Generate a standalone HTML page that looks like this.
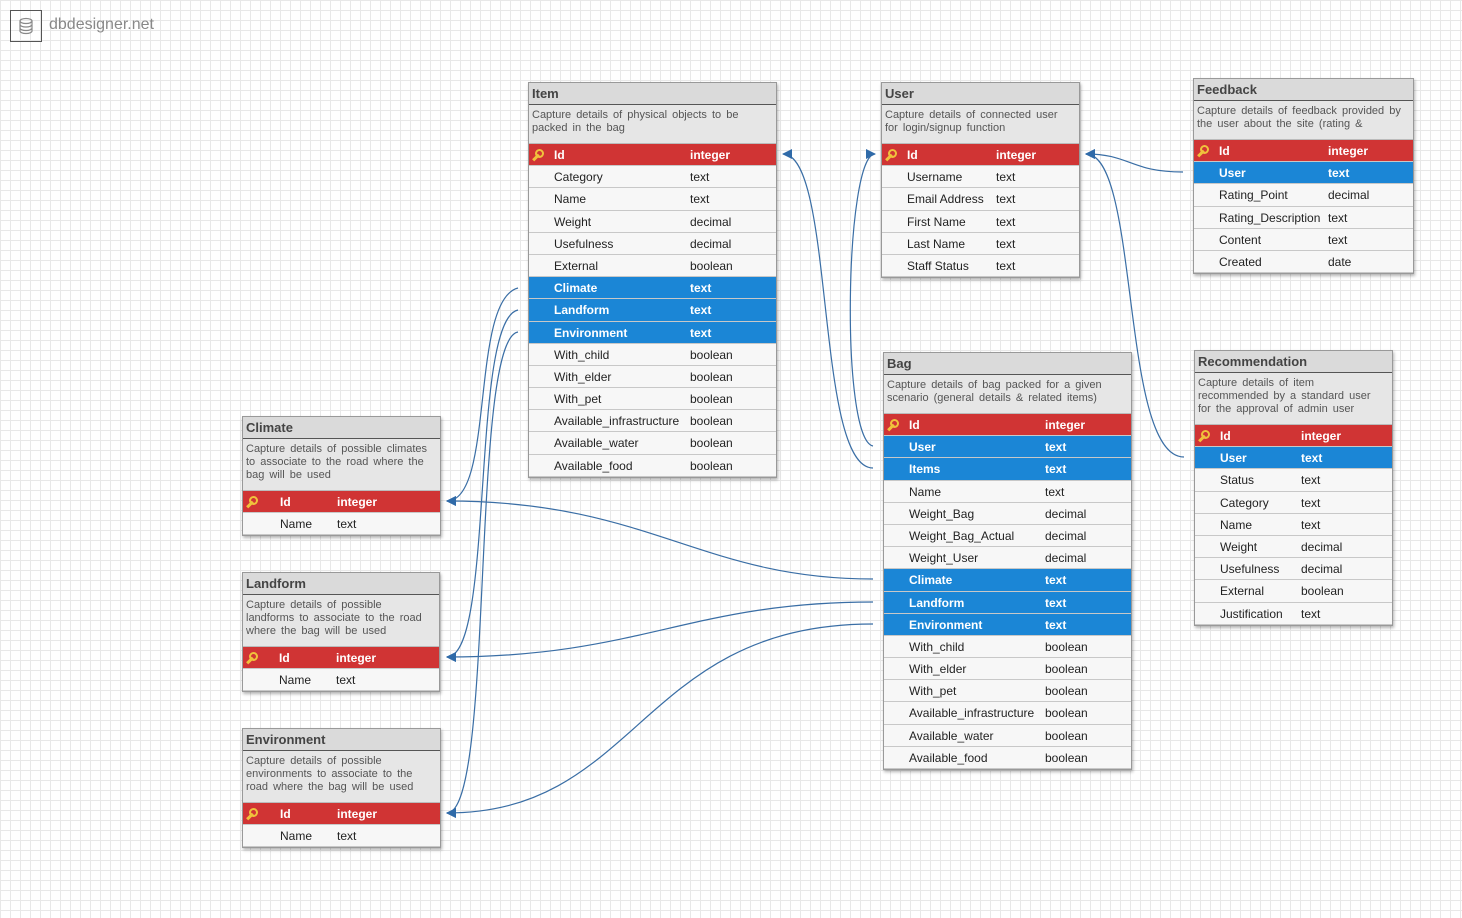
<!DOCTYPE html>
<html><head><meta charset="utf-8"><style>
body{margin:0;width:1462px;height:918px;overflow:hidden;font-family:"Liberation Sans",sans-serif;
background-color:#fff;background-image:linear-gradient(#e8e8e8 1px,transparent 1px),linear-gradient(90deg,#e8e8e8 1px,transparent 1px);background-size:10px 10px;position:relative}
.t{position:absolute;background:#f7f7f7;border:1px solid #999;box-shadow:1px 2px 3px rgba(0,0,0,.3);font-size:12px;color:#222;box-sizing:border-box}
.h{height:21px;line-height:21px;background:#dadada;border-bottom:1px solid #555;padding-left:3px;font-size:13px;font-weight:bold;color:#444}
.d{background:#e6e6e6;font-size:11px;line-height:13px;padding:4px 10px 4px 3px;color:#555;word-spacing:2px;box-sizing:border-box;border-bottom:1px solid #bbb;white-space:nowrap}
.r{height:22.2px;line-height:22px;position:relative;border-bottom:1px solid #c8c8c8;box-sizing:border-box}
.r span{position:absolute;top:0}
.r span:first-child{left:25px}
.k{background:#d03434;color:#fff;font-weight:bold}
.b{background:#1b86d6;color:#fff;font-weight:bold}
.k:before{content:"";position:absolute;left:6px;top:5px;width:9px;height:9px;border-radius:50%;border:2px solid #f0c23c;box-sizing:border-box}
.k:after{content:"";position:absolute;left:3px;top:12px;width:8px;height:3px;background:#f0c23c;transform:rotate(-45deg)}
</style></head><body>
<div style="position:absolute;left:10px;top:10px;width:32px;height:32px;border:1px solid #555;box-sizing:border-box"><svg width="30" height="30"><g fill="none" stroke="#888" stroke-width="1.2"><ellipse cx="15" cy="10" rx="6" ry="2.5"/><path d="M9 10v10c0 1.4 2.7 2.5 6 2.5s6-1.1 6-2.5V10M9 13.5c0 1.4 2.7 2.5 6 2.5s6-1.1 6-2.5M9 17c0 1.4 2.7 2.5 6 2.5s6-1.1 6-2.5"/></g></svg></div>
<div style="position:absolute;left:49px;top:16px;font-size:16px;color:#888">dbdesigner.net</div>

<svg style="position:absolute;left:0;top:0" width="1462" height="918"><defs><marker id="a" markerWidth="10" markerHeight="10" refX="9" refY="5" orient="auto" markerUnits="userSpaceOnUse"><path d="M0,0L10,5L0,10z" fill="#2f6aa8"/></marker></defs>
<g fill="none" stroke="#3a6ea5" stroke-width="1.2" marker-end="url(#a)">
<path d="M873,468C815,468 835,154 783,154"/>
<path d="M873,446C840,440 845,154 875,154"/>
<path d="M1183,172C1130,172 1130,154 1086,154"/>
<path d="M1184,457C1120,457 1140,154 1086,154"/>
<path d="M518,288C470,300 495,501 447,501"/>
<path d="M873,579C700,579 650,501 447,501"/>
<path d="M518,310C470,320 495,657 447,657"/>
<path d="M873,602C690,602 640,657 447,657"/>
<path d="M518,332C470,340 495,813 447,813"/>
<path d="M873,624C640,624 640,813 447,813"/>
</g></svg>

<div class="t" style="left:528px;top:82px;width:249px">
<div class="h">Item</div><div class="d" style="height:39px">Capture details of physical objects to be<br>packed in the bag</div>
<div class="r k"><span>Id</span><span style="left:161px">integer</span></div>
<div class="r"><span>Category</span><span style="left:161px">text</span></div>
<div class="r"><span>Name</span><span style="left:161px">text</span></div>
<div class="r"><span>Weight</span><span style="left:161px">decimal</span></div>
<div class="r"><span>Usefulness</span><span style="left:161px">decimal</span></div>
<div class="r"><span>External</span><span style="left:161px">boolean</span></div>
<div class="r b"><span>Climate</span><span style="left:161px">text</span></div>
<div class="r b"><span>Landform</span><span style="left:161px">text</span></div>
<div class="r b"><span>Environment</span><span style="left:161px">text</span></div>
<div class="r"><span>With_child</span><span style="left:161px">boolean</span></div>
<div class="r"><span>With_elder</span><span style="left:161px">boolean</span></div>
<div class="r"><span>With_pet</span><span style="left:161px">boolean</span></div>
<div class="r"><span>Available_infrastructure</span><span style="left:161px">boolean</span></div>
<div class="r"><span>Available_water</span><span style="left:161px">boolean</span></div>
<div class="r"><span>Available_food</span><span style="left:161px">boolean</span></div>
</div>

<div class="t" style="left:881px;top:82px;width:199px">
<div class="h">User</div><div class="d" style="height:39px">Capture details of connected user<br>for login/signup function</div>
<div class="r k"><span>Id</span><span style="left:114px">integer</span></div>
<div class="r"><span>Username</span><span style="left:114px">text</span></div>
<div class="r"><span>Email Address</span><span style="left:114px">text</span></div>
<div class="r"><span>First Name</span><span style="left:114px">text</span></div>
<div class="r"><span>Last Name</span><span style="left:114px">text</span></div>
<div class="r"><span>Staff Status</span><span style="left:114px">text</span></div>
</div>

<div class="t" style="left:1193px;top:78px;width:221px">
<div class="h">Feedback</div><div class="d" style="height:39px;overflow:hidden">Capture details of feedback provided by<br>the user about the site (rating &amp;</div>
<div class="r k"><span>Id</span><span style="left:134px">integer</span></div>
<div class="r b"><span>User</span><span style="left:134px">text</span></div>
<div class="r"><span>Rating_Point</span><span style="left:134px">decimal</span></div>
<div class="r"><span>Rating_Description</span><span style="left:134px">text</span></div>
<div class="r"><span>Content</span><span style="left:134px">text</span></div>
<div class="r"><span>Created</span><span style="left:134px">date</span></div>
</div>

<div class="t" style="left:883px;top:352px;width:249px">
<div class="h">Bag</div><div class="d" style="height:39px">Capture details of bag packed for a given<br>scenario (general details &amp; related items)</div>
<div class="r k"><span>Id</span><span style="left:161px">integer</span></div>
<div class="r b"><span>User</span><span style="left:161px">text</span></div>
<div class="r b"><span>Items</span><span style="left:161px">text</span></div>
<div class="r"><span>Name</span><span style="left:161px">text</span></div>
<div class="r"><span>Weight_Bag</span><span style="left:161px">decimal</span></div>
<div class="r"><span>Weight_Bag_Actual</span><span style="left:161px">decimal</span></div>
<div class="r"><span>Weight_User</span><span style="left:161px">decimal</span></div>
<div class="r b"><span>Climate</span><span style="left:161px">text</span></div>
<div class="r b"><span>Landform</span><span style="left:161px">text</span></div>
<div class="r b"><span>Environment</span><span style="left:161px">text</span></div>
<div class="r"><span>With_child</span><span style="left:161px">boolean</span></div>
<div class="r"><span>With_elder</span><span style="left:161px">boolean</span></div>
<div class="r"><span>With_pet</span><span style="left:161px">boolean</span></div>
<div class="r"><span>Available_infrastructure</span><span style="left:161px">boolean</span></div>
<div class="r"><span>Available_water</span><span style="left:161px">boolean</span></div>
<div class="r"><span>Available_food</span><span style="left:161px">boolean</span></div>
</div>

<div class="t" style="left:1194px;top:350px;width:199px">
<div class="h">Recommendation</div><div class="d" style="height:52px">Capture details of item<br>recommended by a standard user<br>for the approval of admin user</div>
<div class="r k"><span>Id</span><span style="left:106px">integer</span></div>
<div class="r b"><span>User</span><span style="left:106px">text</span></div>
<div class="r"><span>Status</span><span style="left:106px">text</span></div>
<div class="r"><span>Category</span><span style="left:106px">text</span></div>
<div class="r"><span>Name</span><span style="left:106px">text</span></div>
<div class="r"><span>Weight</span><span style="left:106px">decimal</span></div>
<div class="r"><span>Usefulness</span><span style="left:106px">decimal</span></div>
<div class="r"><span>External</span><span style="left:106px">boolean</span></div>
<div class="r"><span>Justification</span><span style="left:106px">text</span></div>
</div>

<div class="t" style="left:242px;top:416px;width:199px">
<div class="h">Climate</div><div class="d" style="height:52px">Capture details of possible climates<br>to associate to the road where the<br>bag will be used</div>
<div class="r k"><span style="left:37px">Id</span><span style="left:94px">integer</span></div>
<div class="r"><span style="left:37px">Name</span><span style="left:94px">text</span></div>
</div>

<div class="t" style="left:242px;top:572px;width:198px">
<div class="h">Landform</div><div class="d" style="height:52px">Capture details of possible<br>landforms to associate to the road<br>where the bag will be used</div>
<div class="r k"><span style="left:36px">Id</span><span style="left:93px">integer</span></div>
<div class="r"><span style="left:36px">Name</span><span style="left:93px">text</span></div>
</div>

<div class="t" style="left:242px;top:728px;width:199px">
<div class="h">Environment</div><div class="d" style="height:52px">Capture details of possible<br>environments to associate to the<br>road where the bag will be used</div>
<div class="r k"><span style="left:37px">Id</span><span style="left:94px">integer</span></div>
<div class="r"><span style="left:37px">Name</span><span style="left:94px">text</span></div>
</div>
</body></html>
